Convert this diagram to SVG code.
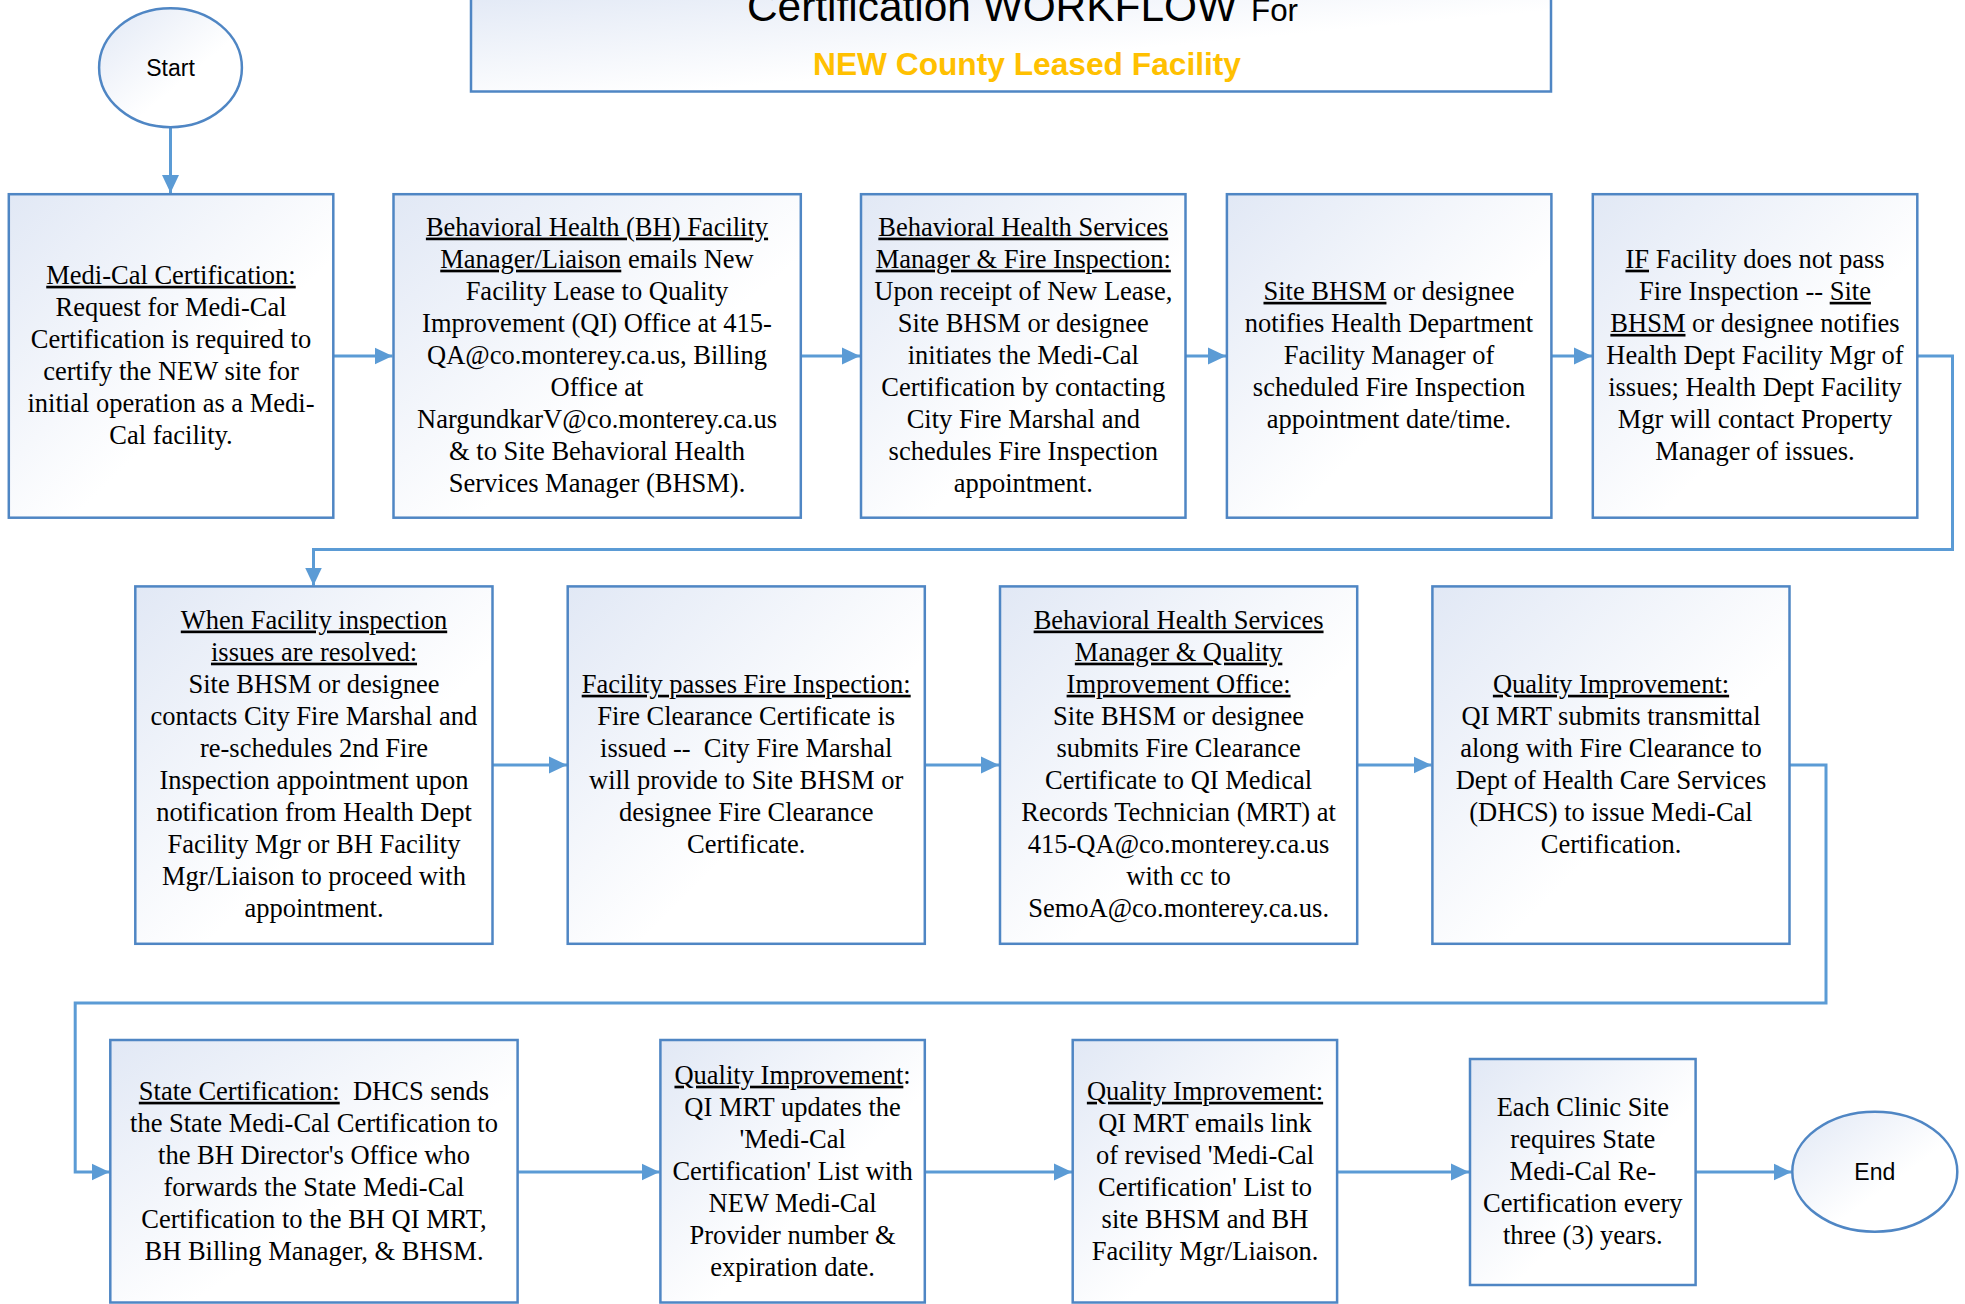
<svg xmlns="http://www.w3.org/2000/svg" width="1965" height="1304" viewBox="0 0 1965 1304">
<defs>
<linearGradient id="bg" x1="0" y1="0" x2="1" y2="1">
<stop offset="0" stop-color="#E1E8F5"/>
<stop offset="0.6" stop-color="#FFFFFF"/>
<stop offset="1" stop-color="#FFFFFF"/>
</linearGradient>
<marker id="ah" markerUnits="userSpaceOnUse" markerWidth="20" markerHeight="20" viewBox="0 0 20 20" refX="18" refY="10" orient="auto">
<path d="M0,1.5 L18,10 L0,18.5 Z" fill="#5B9BD5"/>
</marker>
<style>
.box{fill:url(#bg);stroke:#4F86C4;stroke-width:2.5}
.t{font-family:"Liberation Serif","Times New Roman",serif;font-size:26.5px;fill:#000;text-anchor:middle}
.u{text-decoration:underline}
.s{font-family:"Liberation Sans",Arial,sans-serif;font-size:23px;fill:#000;text-anchor:middle}
.c{fill:none;stroke:#5B9BD5;stroke-width:3;marker-end:url(#ah)}
.cl{fill:none;stroke:#5B9BD5;stroke-width:3}
</style>
</defs>
<rect width="1965" height="1304" fill="#FFFFFF"/>

<g id="title">
<rect class="box" x="471" y="-10" width="1080" height="101.5"/>
<text x="747" y="21" font-family="'Liberation Sans',Arial,sans-serif" font-size="42" textLength="490" lengthAdjust="spacingAndGlyphs">Certification WORKFLOW</text>
<text x="1251" y="21" font-family="'Liberation Sans',Arial,sans-serif" font-size="31" textLength="47" lengthAdjust="spacingAndGlyphs">For</text>
<text x="813" y="75" font-family="'Liberation Sans',Arial,sans-serif" font-size="31" font-weight="bold" fill="#FFC000" textLength="428" lengthAdjust="spacingAndGlyphs">NEW County Leased Facility</text>
</g>

<g id="connectors">
<path class="c" d="M170.5,128 V193"/>
<path class="c" d="M333.3,356 H392.5"/>
<path class="c" d="M800.8,356 H860"/>
<path class="c" d="M1185.5,356 H1226"/>
<path class="c" d="M1551.4,356 H1592"/>
<path class="c" d="M1917.4,356 H1952.5 V549.5 H313.5 V585.5"/>
<path class="c" d="M492.5,765 H567"/>
<path class="c" d="M924.8,765 H999"/>
<path class="c" d="M1357.2,765 H1431.5"/>
<path class="c" d="M1789.5,765 H1826 V1003 H75.2 V1172 H109.5"/>
<path class="c" d="M517.6,1172 H659.5"/>
<path class="c" d="M924.8,1172 H1072"/>
<path class="c" d="M1337.1,1172 H1469"/>
<path class="c" d="M1695.6,1172 H1791.5"/>
</g>

<g id="start">
<ellipse class="box" cx="170.5" cy="67.7" rx="71.4" ry="59.5"/>
<text class="s" x="170.5" y="76">Start</text>
</g>

<g id="n1">
<rect class="box" x="8.8" y="194.2" width="324.5" height="323.5"/>
<text class="t" x="171" y="283.75"><tspan class="u">Medi-Cal Certification:</tspan></text>
<text class="t" x="171" y="315.85">Request for Medi-Cal</text>
<text class="t" x="171" y="347.95">Certification is required to</text>
<text class="t" x="171" y="380.05">certify the NEW site for</text>
<text class="t" x="171" y="412.15">initial operation as a Medi-</text>
<text class="t" x="171" y="444.25">Cal facility.</text>
</g>

<g id="n2">
<rect class="box" x="393.5" y="194.2" width="407.3" height="323.5"/>
<text class="t" x="597" y="235.6"><tspan class="u">Behavioral Health (BH) Facility</tspan></text>
<text class="t" x="597" y="267.7"><tspan class="u">Manager/Liaison</tspan> emails New</text>
<text class="t" x="597" y="299.8">Facility Lease to Quality</text>
<text class="t" x="597" y="331.9">Improvement (QI) Office at 415-</text>
<text class="t" x="597" y="364">QA@co.monterey.ca.us, Billing</text>
<text class="t" x="597" y="396.1">Office at</text>
<text class="t" x="597" y="428.2">NargundkarV@co.monterey.ca.us</text>
<text class="t" x="597" y="460.3">&amp; to Site Behavioral Health</text>
<text class="t" x="597" y="492.4">Services Manager (BHSM).</text>
</g>

<g id="n3">
<rect class="box" x="861" y="194.2" width="324.5" height="323.5"/>
<text class="t" x="1023.3" y="235.6"><tspan class="u">Behavioral Health Services</tspan></text>
<text class="t" x="1023.3" y="267.7"><tspan class="u">Manager &amp; Fire Inspection:</tspan></text>
<text class="t" x="1023.3" y="299.8">Upon receipt of New Lease,</text>
<text class="t" x="1023.3" y="331.9">Site BHSM or designee</text>
<text class="t" x="1023.3" y="364">initiates the Medi-Cal</text>
<text class="t" x="1023.3" y="396.1">Certification by contacting</text>
<text class="t" x="1023.3" y="428.2">City Fire Marshal and</text>
<text class="t" x="1023.3" y="460.3">schedules Fire Inspection</text>
<text class="t" x="1023.3" y="492.4">appointment.</text>
</g>

<g id="n4">
<rect class="box" x="1226.9" y="194.2" width="324.5" height="323.5"/>
<text class="t" x="1389" y="299.8"><tspan class="u">Site BHSM</tspan> or designee</text>
<text class="t" x="1389" y="331.9">notifies Health Department</text>
<text class="t" x="1389" y="364">Facility Manager of</text>
<text class="t" x="1389" y="396.1">scheduled Fire Inspection</text>
<text class="t" x="1389" y="428.2">appointment date/time.</text>
</g>

<g id="n5">
<rect class="box" x="1592.8" y="194.2" width="324.5" height="323.5"/>
<text class="t" x="1755" y="267.7"><tspan class="u">IF</tspan> Facility does not pass</text>
<text class="t" x="1755" y="299.8">Fire Inspection -- <tspan class="u">Site</tspan></text>
<text class="t" x="1755" y="331.9"><tspan class="u">BHSM</tspan> or designee notifies</text>
<text class="t" x="1755" y="364">Health Dept Facility Mgr of</text>
<text class="t" x="1755" y="396.1">issues; Health Dept Facility</text>
<text class="t" x="1755" y="428.2">Mgr will contact Property</text>
<text class="t" x="1755" y="460.3">Manager of issues.</text>
</g>

<g id="n6">
<rect class="box" x="135.3" y="586.4" width="357.2" height="357.4"/>
<text class="t" x="314" y="628.55"><tspan class="u">When Facility inspection</tspan></text>
<text class="t" x="314" y="660.65"><tspan class="u">issues are resolved:</tspan></text>
<text class="t" x="314" y="692.75">Site BHSM or designee</text>
<text class="t" x="314" y="724.85">contacts City Fire Marshal and</text>
<text class="t" x="314" y="756.95">re-schedules 2nd Fire</text>
<text class="t" x="314" y="789.05">Inspection appointment upon</text>
<text class="t" x="314" y="821.15">notification from Health Dept</text>
<text class="t" x="314" y="853.25">Facility Mgr or BH Facility</text>
<text class="t" x="314" y="885.35">Mgr/Liaison to proceed with</text>
<text class="t" x="314" y="917.45">appointment.</text>
</g>

<g id="n7">
<rect class="box" x="567.7" y="586.4" width="357.1" height="357.4"/>
<text class="t" x="746.2" y="692.75"><tspan class="u">Facility passes Fire Inspection:</tspan></text>
<text class="t" x="746.2" y="724.85">Fire Clearance Certificate is</text>
<text class="t" x="746.2" y="756.95" xml:space="preserve">issued --  City Fire Marshal</text>
<text class="t" x="746.2" y="789.05">will provide to Site BHSM or</text>
<text class="t" x="746.2" y="821.15">designee Fire Clearance</text>
<text class="t" x="746.2" y="853.25">Certificate.</text>
</g>

<g id="n8">
<rect class="box" x="1000" y="586.4" width="357.2" height="357.4"/>
<text class="t" x="1178.6" y="628.55"><tspan class="u">Behavioral Health Services</tspan></text>
<text class="t" x="1178.6" y="660.65"><tspan class="u">Manager &amp; Quality</tspan></text>
<text class="t" x="1178.6" y="692.75"><tspan class="u">Improvement Office:</tspan></text>
<text class="t" x="1178.6" y="724.85">Site BHSM or designee</text>
<text class="t" x="1178.6" y="756.95">submits Fire Clearance</text>
<text class="t" x="1178.6" y="789.05">Certificate to QI Medical</text>
<text class="t" x="1178.6" y="821.15">Records Technician (MRT) at</text>
<text class="t" x="1178.6" y="853.25">415-QA@co.monterey.ca.us</text>
<text class="t" x="1178.6" y="885.35">with cc to</text>
<text class="t" x="1178.6" y="917.45">SemoA@co.monterey.ca.us.</text>
</g>

<g id="n9">
<rect class="box" x="1432.4" y="586.4" width="357.1" height="357.4"/>
<text class="t" x="1611" y="692.75"><tspan class="u">Quality Improvement:</tspan></text>
<text class="t" x="1611" y="724.85">QI MRT submits transmittal</text>
<text class="t" x="1611" y="756.95">along with Fire Clearance to</text>
<text class="t" x="1611" y="789.05">Dept of Health Care Services</text>
<text class="t" x="1611" y="821.15">(DHCS) to issue Medi-Cal</text>
<text class="t" x="1611" y="853.25">Certification.</text>
</g>

<g id="n10">
<rect class="box" x="110.3" y="1040" width="407.3" height="262.5"/>
<text class="t" x="314" y="1099.75" xml:space="preserve"><tspan class="u">State Certification:</tspan>  DHCS sends</text>
<text class="t" x="314" y="1131.85">the State Medi-Cal Certification to</text>
<text class="t" x="314" y="1163.95">the BH Director's Office who</text>
<text class="t" x="314" y="1196.05">forwards the State Medi-Cal</text>
<text class="t" x="314" y="1228.15">Certification to the BH QI MRT,</text>
<text class="t" x="314" y="1260.25">BH Billing Manager, &amp; BHSM.</text>
</g>

<g id="n11">
<rect class="box" x="660.4" y="1040" width="264.4" height="262.5"/>
<text class="t" x="792.6" y="1083.7"><tspan class="u">Quality Improvement</tspan>:</text>
<text class="t" x="792.6" y="1115.8">QI MRT updates the</text>
<text class="t" x="792.6" y="1147.9">'Medi-Cal</text>
<text class="t" x="792.6" y="1180">Certification' List with</text>
<text class="t" x="792.6" y="1212.1">NEW Medi-Cal</text>
<text class="t" x="792.6" y="1244.2">Provider number &amp;</text>
<text class="t" x="792.6" y="1276.3">expiration date.</text>
</g>

<g id="n12">
<rect class="box" x="1072.7" y="1040" width="264.4" height="262.5"/>
<text class="t" x="1205" y="1099.75"><tspan class="u">Quality Improvement:</tspan></text>
<text class="t" x="1205" y="1131.85">QI MRT emails link</text>
<text class="t" x="1205" y="1163.95">of revised 'Medi-Cal</text>
<text class="t" x="1205" y="1196.05">Certification' List to</text>
<text class="t" x="1205" y="1228.15">site BHSM and BH</text>
<text class="t" x="1205" y="1260.25">Facility Mgr/Liaison.</text>
</g>

<g id="n13">
<rect class="box" x="1470" y="1059" width="225.6" height="226"/>
<text class="t" x="1582.8" y="1115.8">Each Clinic Site</text>
<text class="t" x="1582.8" y="1147.9">requires State</text>
<text class="t" x="1582.8" y="1180">Medi-Cal Re-</text>
<text class="t" x="1582.8" y="1212.1">Certification every</text>
<text class="t" x="1582.8" y="1244.2">three (3) years.</text>
</g>

<g id="end">
<ellipse class="box" cx="1874.8" cy="1171.7" rx="82.5" ry="60"/>
<text class="s" x="1874.8" y="1180">End</text>
</g>
</svg>
